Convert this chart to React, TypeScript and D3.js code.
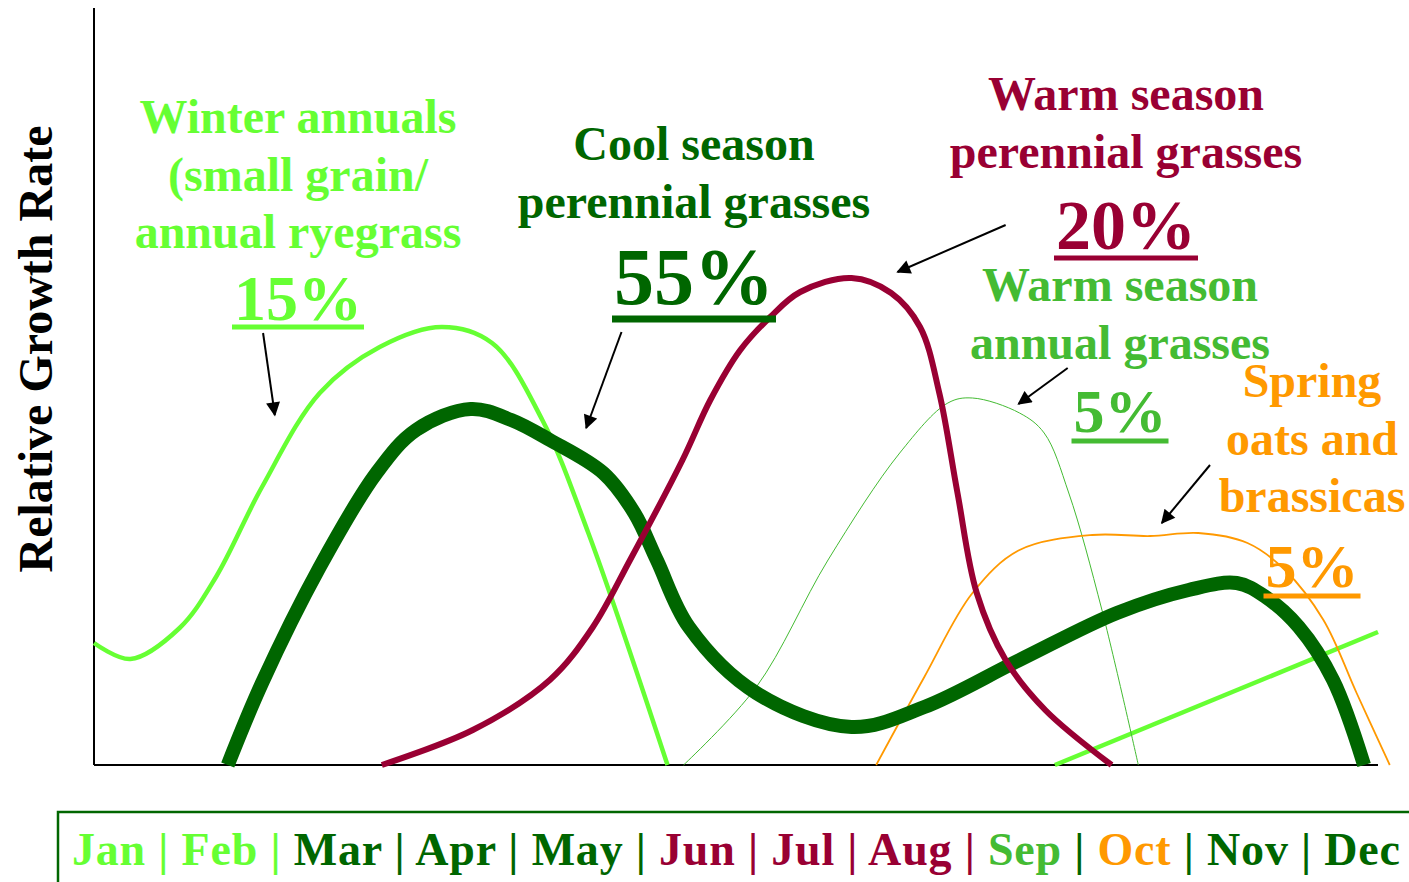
import { useRef, useEffect } from "react";
import * as d3 from "d3";

// month position (0 = start of Jan, 12 = end of Dec), relative growth (0-100)
const winterAnnuals: [number, number][] = [
  [0, 24.4], [0.34, 21.2], [0.8, 27.4], [1.14, 37.6], [1.57, 55.6], [2.11, 74.4],
  [2.67, 83.6], [3.25, 87.6], [3.72, 84.4], [4.19, 69], [4.62, 46.4], [5.36, 0],
];
const coolSeason: [number, number][] = [
  [1.25, 0], [1.57, 16.4], [2.11, 39.6], [2.64, 58.4], [3.01, 67], [3.52, 71.2],
  [3.9, 69], [4.26, 65], [4.76, 58.4], [5.05, 50.4], [5.26, 41], [5.56, 27.6],
  [6.19, 14.4], [7.08, 7.6], [7.76, 11.6], [8.65, 21], [9.56, 30.4], [10.23, 35],
  [10.68, 36.4], [10.95, 33.6], [11.26, 27.6], [11.58, 17], [11.87, 0],
];
const warmPerennial: [number, number][] = [
  [2.69, 0], [3.54, 7], [4.26, 17], [4.66, 27.5], [5.01, 41], [5.5, 61],
  [5.76, 73], [6.04, 83], [6.32, 89.6], [6.6, 94.6], [7.08, 97.4], [7.45, 94.4],
  [7.72, 87.6], [7.9, 74.4], [8.07, 54.4], [8.25, 34.4], [8.52, 21], [8.89, 11], [9.51, 0],
];
const warmAnnual: [number, number][] = [
  [5.51, 0], [6.19, 15.6], [6.86, 41], [7.53, 62.4], [7.98, 72.4], [8.21, 73.4],
  [8.65, 70.4], [8.88, 66.4], [9.11, 54.4], [9.42, 31], [9.76, 0],
];
const springOats: [number, number][] = [
  [7.31, 0], [7.76, 17.6], [8.21, 34.4], [8.65, 43], [9.33, 46], [9.87, 45.8],
  [10.32, 46.4], [10.78, 44.4], [11.13, 39], [11.49, 29], [11.8, 14.4], [12.11, 0],
];
const winterAnnualsFall: [number, number][] = [[8.98, 0], [12, 26.6]];

const months = ["Jan", "Feb", "Mar", "Apr", "May", "Jun", "Jul", "Aug", "Sep", "Oct", "Nov", "Dec"];
const monthColors = ["#66ff33", "#66ff33", "#006600", "#006600", "#006600", "#990033",
  "#990033", "#990033", "#44bb33", "#ff9900", "#006600", "#006600"];
const sepColors = ["#66ff33", "#66ff33", "#006600", "#006600", "#006600", "#990033",
  "#990033", "#990033", "#006600", "#006600", "#006600"];

const series = [
  { name: "winter", data: winterAnnuals, color: "#66ff33", width: 4.5 },
  { name: "winter2", data: winterAnnualsFall, color: "#66ff33", width: 4.5 },
  { name: "warmAnnual", data: warmAnnual, color: "#44bb33", width: 1 },
  { name: "spring", data: springOats, color: "#ff9900", width: 1.8 },
  { name: "cool", data: coolSeason, color: "#006600", width: 14 },
  { name: "warmPerennial", data: warmPerennial, color: "#990033", width: 6 },
];

// label blocks: lines, big percent
const labels = [
  { lines: ["Winter annuals", "(small grain/", "annual ryegrass"], pct: "15%", color: "#66ff33", cx: 298, y0: 133, pctY: 320, pctSize: 64, ulY: 327, ulW: 5 },
  { lines: ["Cool season", "perennial grasses"], pct: "55%", color: "#006600", cx: 694, y0: 160, pctY: 304, pctSize: 80, ulY: 319, ulW: 7 },
  { lines: ["Warm season", "perennial grasses"], pct: "20%", color: "#990033", cx: 1126, y0: 110, pctY: 249, pctSize: 70, ulY: 258, ulW: 5 },
  { lines: ["Warm season", "annual grasses"], pct: "5%", color: "#44bb33", cx: 1120, y0: 301, pctY: 432, pctSize: 62, ulY: 441, ulW: 5 },
  { lines: ["Spring", "oats and", "brassicas"], pct: "5%", color: "#ff9900", cx: 1312, y0: 397, pctY: 587, pctSize: 62, ulY: 596, ulW: 5 },
];

// arrows in data units [month, value] -> [month, value]
const arrows: [number, number, number, number][] = [
  [1.58, 86.4, 1.69, 70],
  [4.93, 86.6, 4.6, 67.4],
  [8.52, 108, 7.51, 98.6],
  [9.1, 79.4, 8.64, 72.2],
  [10.43, 60, 9.98, 48.4],
];

const W = 1409;
const H = 882;
const FONT = "'Liberation Serif', 'Times New Roman', serif";

export default function App() {
  const svgRef = useRef<SVGSVGElement>(null);

  useEffect(() => {
    const svg = d3.select(svgRef.current);
    svg.selectAll("*").remove();

    const x = d3.scaleLinear().domain([0, 12]).range([94, 1378]);
    const y = d3.scaleLinear().domain([0, 100]).range([765, 265]);

    svg.append("defs").append("marker")
      .attr("id", "arrowhead")
      .attr("viewBox", "0 0 10 10")
      .attr("refX", 9).attr("refY", 5)
      .attr("markerWidth", 16).attr("markerHeight", 14)
      .attr("markerUnits", "userSpaceOnUse")
      .attr("orient", "auto")
      .append("path")
      .attr("d", "M0,0 L10,5 L0,10 Z")
      .attr("fill", "#000");

    // axes
    svg.append("line").attr("x1", x(0)).attr("x2", x(0)).attr("y1", 8).attr("y2", y(0))
      .attr("stroke", "#000").attr("stroke-width", 2);
    svg.append("line").attr("x1", x(0)).attr("x2", x(12)).attr("y1", y(0)).attr("y2", y(0))
      .attr("stroke", "#000").attr("stroke-width", 2);

    svg.append("text")
      .attr("transform", `translate(52, 349) rotate(-90)`)
      .attr("text-anchor", "middle")
      .attr("font-family", FONT).attr("font-weight", "bold").attr("font-size", 48)
      .attr("fill", "#000")
      .text("Relative Growth Rate");

    const line = d3.line<[number, number]>()
      .x((d) => x(d[0]))
      .y((d) => y(d[1]))
      .curve(d3.curveCatmullRom.alpha(0.5));

    series.forEach((s) => {
      svg.append("path")
        .attr("d", line(s.data))
        .attr("fill", "none")
        .attr("stroke", s.color)
        .attr("stroke-width", s.width)
        .attr("stroke-linejoin", "round");
    });

    // labels
    labels.forEach((l) => {
      const g = svg.append("g")
        .attr("font-family", FONT).attr("font-weight", "bold")
        .attr("fill", l.color).attr("text-anchor", "middle");
      l.lines.forEach((t, i) => {
        g.append("text").attr("x", l.cx).attr("y", l.y0 + i * 57.5)
          .attr("font-size", 48).text(t);
      });
      const pct = g.append("text").attr("x", l.cx).attr("y", l.pctY)
        .attr("font-size", l.pctSize).text(l.pct);
      const w = (pct.node() as SVGTextElement).getComputedTextLength();
      g.append("rect")
        .attr("x", l.cx - w / 2 - 2).attr("width", w + 4)
        .attr("y", l.ulY - l.ulW / 2).attr("height", l.ulW);
    });

    arrows.forEach((a) => {
      svg.append("line")
        .attr("x1", x(a[0])).attr("y1", y(a[1]))
        .attr("x2", x(a[2])).attr("y2", y(a[3]))
        .attr("stroke", "#000").attr("stroke-width", 2)
        .attr("marker-end", "url(#arrowhead)");
    });

    // month bar
    svg.append("rect").attr("x", 58).attr("y", 812).attr("width", W).attr("height", 100)
      .attr("fill", "none").attr("stroke", "#006600").attr("stroke-width", 2.5);
    const mt = svg.append("text").attr("x", 72).attr("y", 865)
      .attr("font-family", FONT).attr("font-weight", "bold").attr("font-size", 46)
      .attr("textLength", 1328).attr("lengthAdjust", "spacing");
    months.forEach((m, i) => {
      mt.append("tspan").attr("fill", monthColors[i]).text(m);
      if (i < months.length - 1) {
        mt.append("tspan").attr("fill", sepColors[i]).text(" | ");
      }
    });
  }, []);

  return (
    <svg ref={svgRef} width={W} height={H}
      style={{ position: "absolute", left: 0, top: 0, background: "#fff" }} />
  );
}
